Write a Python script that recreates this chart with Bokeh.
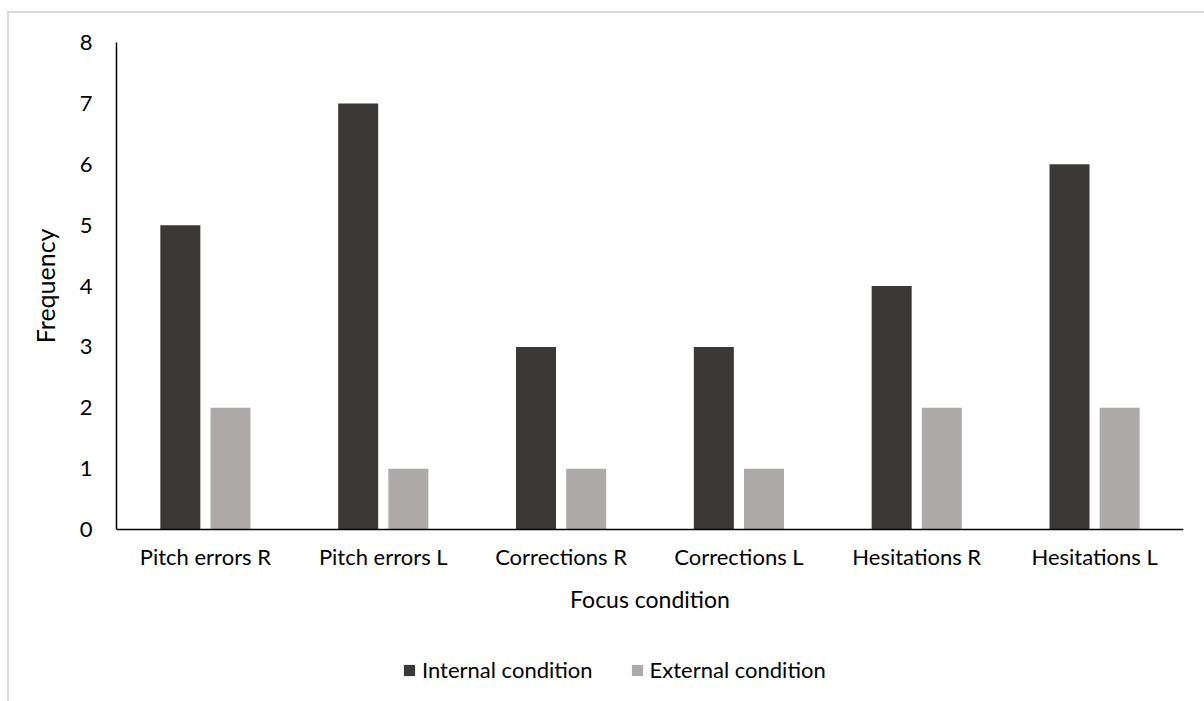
from bokeh.plotting import figure
from bokeh.models import FactorRange, Range1d, Legend, LegendItem, SingleIntervalTicker, Title
from bokeh.transform import dodge
from bokeh.embed import file_html
from bokeh.resources import INLINE
from bokeh.models import ColumnDataSource

categories = ["Pitch errors R", "Pitch errors L", "Corrections R",
              "Corrections L", "Hesitations R", "Hesitations L"]
internal = [5, 7, 3, 3, 4, 6]
external = [2, 1, 1, 1, 2, 2]
series_names = ["Internal condition", "External condition"]
y_title = "Frequency"
x_title = "Focus condition"
y_min, y_max = 0, 8

FONT = "Lato"
DARK = "#3B3838"
LIGHT = "#AEAAAA"

src = ColumnDataSource(dict(cat=categories, internal=internal, external=external))

# frame extends below the value axis so the legend (drawn inside the frame) is visible
PX_PER_UNIT = 487 / (y_max - y_min)
below_units = 172 / PX_PER_UNIT

p = figure(x_range=FactorRange(*categories, range_padding=0),
           y_range=Range1d(y_min - below_units, y_max),
           frame_width=1067, frame_height=659,
           min_border_left=107, min_border_top=29,
           min_border_right=21, min_border_bottom=0,
           output_backend="svg", toolbar_location=None)
p.styles = {"margin-left": "7px", "margin-top": "11px",
            "border-top": "2px solid #d9d9d9", "border-left": "2px solid #d9d9d9"}

r1 = p.vbar(x=dodge("cat", -0.141, range=p.x_range), top="internal", bottom=y_min,
            width=0.225, source=src, fill_color=DARK, line_color=None)
r2 = p.vbar(x=dodge("cat", 0.141, range=p.x_range), top="external", bottom=y_min,
            width=0.225, source=src, fill_color=LIGHT, line_color=None)

p.outline_line_color = None
p.xgrid.grid_line_color = None
p.ygrid.grid_line_color = None

for ax in (p.xaxis[0], p.yaxis[0]):
    ax.axis_line_color = "black"
    ax.axis_line_width = 1.5
    ax.major_tick_line_color = None
    ax.minor_tick_line_color = None
    ax.major_tick_out = 0
    ax.major_tick_in = 0
    ax.major_label_text_font = FONT
    ax.major_label_text_font_size = "22px"
    ax.major_label_text_color = "black"
    ax.axis_label_text_font = FONT
    ax.axis_label_text_font_style = "normal"
    ax.axis_label_text_font_size = "23px"
    ax.axis_label_text_color = "black"

p.yaxis.ticker = SingleIntervalTicker(interval=1)
p.yaxis.bounds = (y_min, y_max)
p.yaxis.major_label_standoff = 20
p.xaxis.fixed_location = y_min
p.xaxis.major_label_standoff = 13
p.xaxis.axis_label = x_title
p.xaxis.axis_label_standoff = 12

# y-axis title centred on the value span (0..8) rather than the whole frame
p.add_layout(Title(text=y_title, align="right", vertical_align="top",
                   offset=186, standoff=30,
                   text_font=FONT, text_font_size="25px", text_font_style="normal",
                   text_color="black"), "left")

legend = Legend(items=[LegendItem(label=series_names[0], renderers=[r1]),
                       LegendItem(label=series_names[1], renderers=[r2])],
                orientation="horizontal", location=(286, 18),
                label_text_font=FONT, label_text_font_size="22px",
                label_text_color="black",
                glyph_width=14, glyph_height=14, label_standoff=6, spacing=37,
                border_line_color=None, background_fill_alpha=0, margin=0, padding=0)
p.add_layout(legend, "center")

open("out.html", "w").write(file_html(p, INLINE))
